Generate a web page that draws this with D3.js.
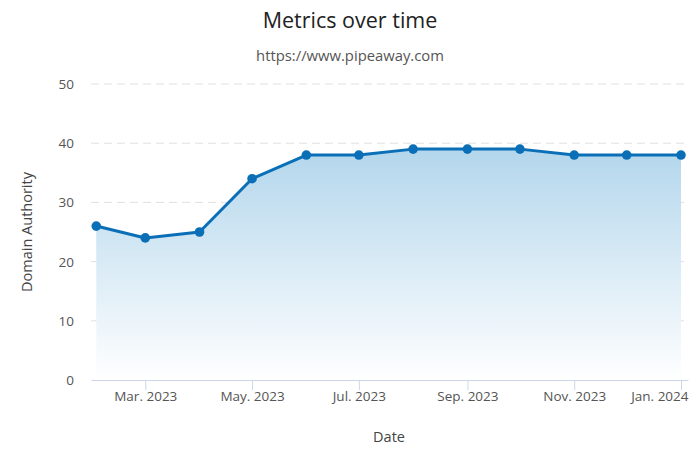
<!DOCTYPE html>
<html><head><meta charset="utf-8">
<script src="https://cdn.jsdelivr.net/npm/d3@7"></script>
<style>body{margin:0;background:#fff}svg{display:block;font-family:"Open Sans",sans-serif}</style>
</head><body><svg id="c" width="700" height="467"></svg>
<script>
const dates = ["2023-02-01","2023-03-01","2023-04-01","2023-05-01","2023-06-01","2023-07-01","2023-08-01","2023-09-01","2023-10-01","2023-11-01","2023-12-01","2024-01-01"];
const values = [26,24,25,34,38,38,39,39,39,38,38,38];
const yTicks = [0,10,20,30,40,50];
const xTickDates = ["2023-03-01","2023-05-01","2023-07-01","2023-09-01","2023-11-01","2024-01-01"];
const xTickLabels = ["Mar. 2023","May. 2023","Jul. 2023","Sep. 2023","Nov. 2023","Jan. 2024"];

const parse = d3.utcParse("%Y-%m-%d");
const data = dates.map((d,i)=>({date:parse(d), value:values[i]}));
const svg = d3.select("#c");
const mLeft=91, mRight=688, mTop=84, mBottom=380;
const x = d3.scaleUtc().domain([parse("2023-01-29"), parse("2024-01-05")]).range([mLeft,mRight]);
const y = d3.scaleLinear().domain([0,50]).range([mBottom,mTop]);

const defs = svg.append("defs");
const g = defs.append("linearGradient").attr("id","ag").attr("x1",0).attr("x2",0)
  .attr("gradientUnits","userSpaceOnUse").attr("y1",y(39)).attr("y2",mBottom);
g.append("stop").attr("offset","0%").attr("stop-color","#b3d6ec");
g.append("stop").attr("offset","100%").attr("stop-color","#ffffff");

// title
svg.append("text").attr("x",350).attr("y",28).attr("text-anchor","middle").attr("font-size",21.5).attr("fill","#222").text("Metrics over time");
svg.append("text").attr("x",350).attr("y",61).attr("text-anchor","middle").attr("font-size",14.8).attr("fill","#555").text("https://www.pipeaway.com");

// grid
svg.append("g").selectAll("line").data(yTicks.filter(t=>t>0)).join("line")
  .attr("x1",mLeft).attr("x2",mRight).attr("y1",d=>y(d)).attr("y2",d=>y(d))
  .attr("stroke","#e0e0e0").attr("stroke-dasharray","8,5").attr("stroke-width",1);

// y labels
svg.append("g").selectAll("text").data(yTicks).join("text")
  .attr("x",74).attr("y",d=>y(d)+5).attr("text-anchor","end").attr("font-size",13.5).attr("fill","#555").text(d=>d);

// area + line
const area = d3.area().x(d=>x(d.date)).y0(mBottom).y1(d=>y(d.value));
svg.append("path").datum(data).attr("d",area).attr("fill","url(#ag)");
const line = d3.line().x(d=>x(d.date)).y(d=>y(d.value));
svg.append("path").datum(data).attr("d",line).attr("fill","none").attr("stroke","#0a6fb7").attr("stroke-width",3).attr("stroke-linejoin","round");

// x axis
const xAxis = d3.axisBottom(x).tickValues(xTickDates.map(parse)).tickFormat((d,i)=>xTickLabels[i]).tickSize(10).tickSizeOuter(0);
const ax = svg.append("g").attr("transform",`translate(0,${mBottom})`).call(xAxis);
ax.select(".domain").attr("stroke","#ccd6eb");
ax.selectAll(".tick line").attr("stroke","#ccd6eb");
ax.selectAll(".tick text").attr("font-size",13.5).attr("fill","#555").attr("font-family","Open Sans, sans-serif").attr("dy","0.6em");
ax.selectAll(".tick text").filter((d,i)=>i===xTickLabels.length-1).attr("text-anchor","end").attr("x",mRight-x(parse(xTickDates[xTickDates.length-1])));

// markers
svg.append("g").selectAll("circle").data(data).join("circle")
  .attr("cx",d=>x(d.date)).attr("cy",d=>y(d.value)).attr("r",4.8).attr("fill","#0a6fb7");

// axis titles
svg.append("text").attr("x",389).attr("y",442).attr("text-anchor","middle").attr("font-size",14.5).attr("fill","#444").text("Date");
svg.append("text").attr("transform",`translate(32,${(mTop+mBottom)/2}) rotate(-90)`).attr("text-anchor","middle").attr("font-size",14.5).attr("fill","#444").text("Domain Authority");
</script></body></html>
